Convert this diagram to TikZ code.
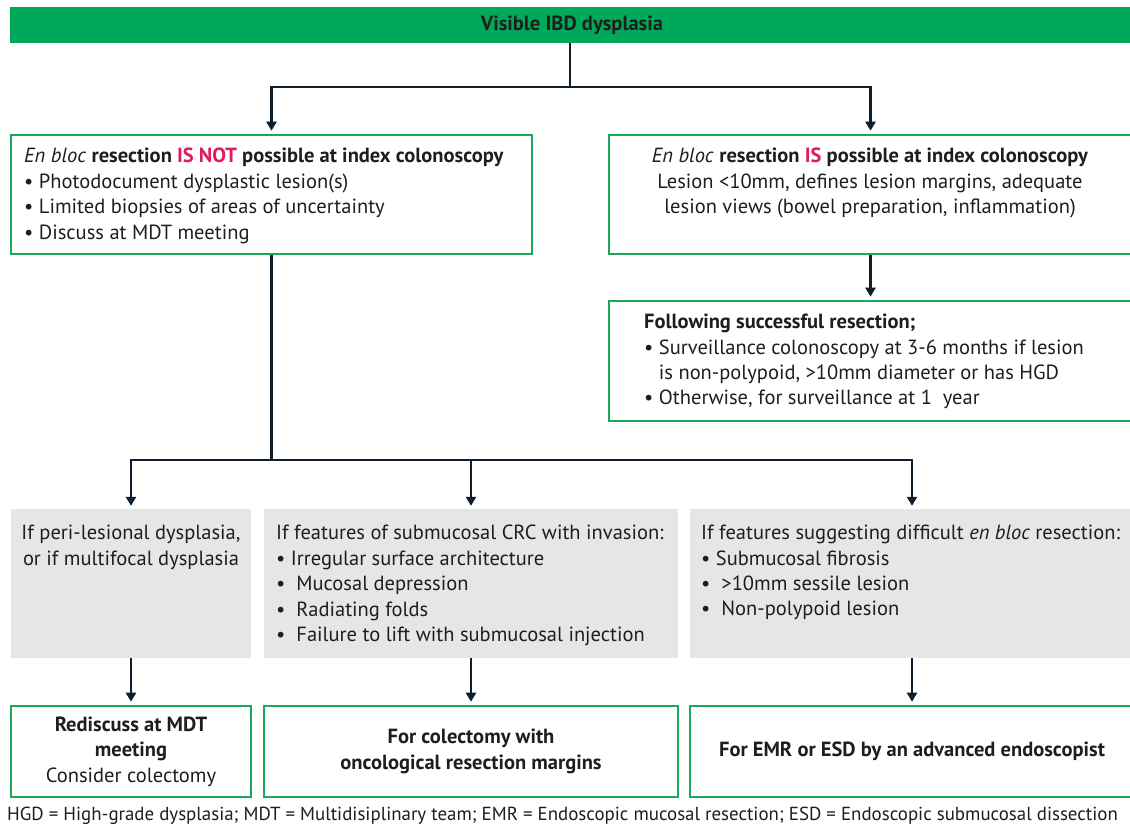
\documentclass[tikz,border=0pt]{standalone}
\usepackage{fontspec}
\setmainfont{PT Sans}
\usetikzlibrary{arrows.meta}
\definecolor{bargreen}{RGB}{0,168,90}
\definecolor{boxgreen}{RGB}{28,168,92}
\definecolor{greyfill}{RGB}{230,230,230}
\definecolor{navy}{RGB}{14,30,44}
\definecolor{hot}{RGB}{228,24,90}
\definecolor{ink}{RGB}{30,30,30}
\begin{document}
\begin{tikzpicture}[x=1pt,y=-1pt,
  gbox/.style={draw=boxgreen, line width=2.6pt, fill=white, inner sep=0pt, text=ink, align=center, font=\fontsize{20.5}{25.4}\selectfont},
  greybox/.style={fill=greyfill, inner sep=0pt},
  txt/.style={inner sep=0pt, text=ink, font=\fontsize{20.5}{25.4}\selectfont, align=left, anchor=north west},
  conn/.style={draw=navy, line width=2.4pt},
  arr/.style={conn, shorten >=3pt, -{Triangle[length=9pt,width=10pt]}}]
\useasboundingbox (0,0) rectangle (1130,830);
\fill[white] (0,0) rectangle (1130,830);

\node[fill=bargreen, minimum width=1124pt, minimum height=36pt, inner sep=0pt, text=ink, font=\fontsize{20.5}{25.4}\selectfont\bfseries] (top) at (572,25) {Visible IBD dysplasia};

\node[gbox, minimum width=521pt, minimum height=119pt] (L1) at (271.5,194.5) {};
\node[txt] (L1t) at (24,148) {{\itshape En bloc} \textbf{resection \textcolor{hot}{IS NOT} possible at index colonoscopy}\\
• Photodocument dysplastic lesion(s)\\
• Limited biopsies of areas of uncertainty\\
• Discuss at MDT meeting};

\node[gbox, minimum width=523pt, minimum height=119pt] (R1) at (870.5,194.5) {};
\node[txt, anchor=north, align=center] (R1t) at (870,148) {{\itshape En bloc} \textbf{resection \textcolor{hot}{IS} possible at index colonoscopy}\\
Lesion <10mm, defines lesion margins, adequate\\
lesion views (bowel preparation, inflammation)};

\node[gbox, minimum width=523pt, minimum height=120pt] (R2) at (870.5,361) {};
\node[txt] (R2t) at (644,314) {\textbf{Following successful resection;}\\
• Surveillance colonoscopy at 3-6 months if lesion\\
\phantom{• }is non-polypoid, >10mm diameter or has HGD\\
• Otherwise, for surveillance at 1\ \ year};

\node[greybox, minimum width=240pt, minimum height=149pt] (G1) at (131,583.5) {};
\node[txt, anchor=north, align=center] (G1t) at (131,525) {If peri-lesional dysplasia,\\ or if multifocal dysplasia};

\node[greybox, minimum width=414pt, minimum height=149pt] (G2) at (471,583.5) {};
\node[txt] (G2t) at (276,525) {If features of submucosal CRC with invasion:\\
• Irregular surface architecture\\
•\ \ Mucosal depression\\
•\ \ Radiating folds\\
•\ \ Failure to lift with submucosal injection};

\node[greybox, minimum width=444pt, minimum height=149pt] (G3) at (912,583.5) {};
\node[txt] (G3t) at (701,525) {If features suggesting difficult {\itshape en bloc} resection:\\
• Submucosal fibrosis\\
•\ \ >10mm sessile lesion\\
•\ \ Non-polypoid lesion};

\node[gbox, minimum width=240pt, minimum height=91pt] (B1) at (131,751.5) {\textbf{Rediscuss at MDT}\\ \textbf{meeting}\\ Consider colectomy};
\node[gbox, minimum width=414pt, minimum height=91pt] (B2) at (471,751.5) {\textbf{For colectomy with}\\ \textbf{oncological resection margins}};
\node[gbox, minimum width=444pt, minimum height=91pt] (B3) at (912,751.5) {\textbf{For EMR or ESD by an advanced endoscopist}};

\node[anchor=west, inner sep=0pt, text=ink, font=\fontsize{18.9}{22}\selectfont] (fn) at (7,816) {HGD = High-grade dysplasia; MDT = Multidisiplinary team; EMR = Endoscopic mucosal resection; ESD = Endoscopic submucosal dissection};

\coordinate (j0) at (570,87);
\draw[conn] (top.south -| j0) -- (j0);
\draw[arr] (j0) -| (L1.north);
\draw[arr] (j0) -| (R1.north);
\draw[arr] (R1.south) -- (R2.north);
\coordinate (j1) at (271.5,460);
\draw[conn] (L1.south) -- (j1);
\draw[arr] (j1) -| (G1.north);
\draw[arr] (j1) -| (G2.north);
\draw[arr] (j1) -| (G3.north);
\draw[arr] (G1.south) -- (B1.north);
\draw[arr] (G2.south) -- (B2.north);
\draw[arr] (G3.south) -- (B3.north);
\end{tikzpicture}
\end{document}
